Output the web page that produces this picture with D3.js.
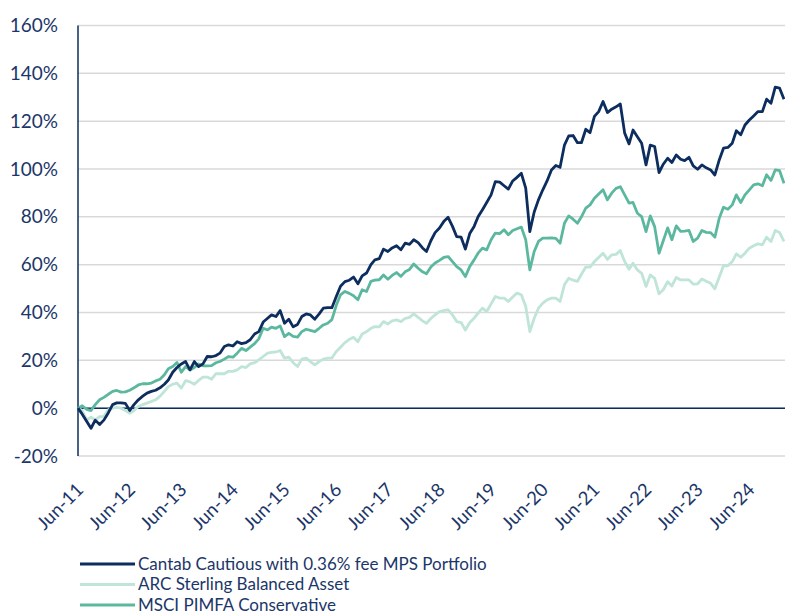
<!DOCTYPE html>
<html>
<head>
<meta charset="utf-8">
<script src="https://cdn.jsdelivr.net/npm/d3@7"></script>
<style>
  body { margin: 0; background: #fff; }
  text { font-family: Lato, "Open Sans", sans-serif; fill: #1b3668; }
</style>
</head>
<body>
<div id="chart"></div>
<script>
// Monthly cumulative returns (%), Jun-11 .. Feb-25
const START_MONTH = new Date(2011, 5, 1);

const cantab = [
    0, -2.5, -5.5, -8.4, -5, -6.8, -5, -2, 1.5, 2.2, 2.2, 2,
    -1, 1.5, 3.5, 5, 6.3, 7, 7.5, 8.5, 10, 11.8, 15, 17,
    18.5, 19.5, 16, 19.5, 17.4, 18.5, 21.6, 21.5, 22, 23, 25.8, 26.5,
    26, 27.8, 27, 27.4, 28.6, 31, 32, 36, 37.6, 39, 38.3, 40.8,
    35.5, 37.2, 34, 35, 38.3, 39.4, 39, 37.2, 39.4, 41.8, 42, 42,
    46.7, 51, 52.9, 53.5, 54.8, 52, 55.3, 56.5, 60, 62, 62.5, 66.5,
    65.5, 67, 67.9, 66.2, 69, 68.5, 70.4, 69.2, 67, 65.5, 70, 73.4,
    75.3, 78, 79.8, 76, 71.7, 71.5, 66.5, 73, 76, 80, 83, 86,
    89.2, 94.7, 94.5, 93, 91.6, 95, 96.5, 98.2, 92, 73.8, 82, 87.1,
    91.3, 95, 99.6, 101.5, 100.7, 110, 113.8, 114, 111, 111, 116.6, 115.2,
    122, 124, 128.2, 123.6, 125, 126, 127.2, 115, 110.5, 116.3, 113.5, 110.8,
    101.7, 110, 109.4, 98.5, 102, 104.5, 102.7, 105.9, 104.1, 103.5, 104.9, 101.3,
    99.9, 101.7, 100.5, 99.6, 97.5, 103.8, 108.7, 109, 110.8, 116, 114.3, 118.4,
    120.5, 122.2, 124, 124, 129.2, 127.5, 134.2, 133.8, 129.2
];

const arc = [
    0, -1, -5, -3.8, -4.9, -3.5, -3.4, -0.7, 0, 0.3, 0, -1,
    -2.1, -1, 0.7, 1.5, 2.1, 2.8, 3.5, 5, 7, 9, 10, 10.5,
    8.4, 11.5, 11, 10, 11.6, 13, 13, 12.1, 14.4, 14.4, 14.4, 15.4,
    15.4, 16, 17.4, 17, 18.5, 19, 20.2, 21.6, 23, 23.3, 23.5, 24.1,
    20.9, 21.3, 19, 17.4, 20.5, 20.9, 19.5, 18.1, 19.5, 20.5, 20.9, 21,
    23.7, 25.5, 27.4, 28.8, 29.6, 27.8, 31, 32, 33.4, 34.1, 34, 36.2,
    35.2, 36.5, 36.9, 36.2, 37.5, 38, 39.4, 38, 36.5, 35.5, 37.5, 39,
    40.4, 40.8, 41.1, 39, 36.2, 35.8, 32.7, 35.8, 37.6, 39.7, 41.8, 40.4,
    43.6, 46.7, 46, 46, 44.6, 46.5, 48.1, 47.4, 42.5, 32, 37.6, 41.8,
    43.9, 45.3, 46, 46, 44.6, 51.6, 54.3, 53.5, 53, 56, 59, 59,
    61.3, 63, 64.8, 62.2, 64.1, 64.3, 65.9, 61.3, 58.1, 60.6, 57.8, 56.4,
    50.9, 55.7, 54.3, 47.8, 49.5, 52.9, 51.1, 54.7, 53.6, 53.6, 53.6, 51.9,
    52, 54, 53.1, 52.2, 49.9, 54.8, 59.5, 59.5, 61.3, 64.5, 63.1, 64.8,
    66.9, 67.9, 68.7, 68.3, 71.5, 69.7, 74.3, 73.4, 69.7
];

const msci = [
    0, 1, -0.5, -1, 1.5, 3.5, 4.5, 5.8, 7, 7.4, 6.7, 6.8,
    7.5, 8.5, 9.7, 10.2, 10.2, 10.5, 11.4, 12.1, 14, 16.5, 17.4, 19.1,
    15, 17.4, 16, 17, 18.5, 17.7, 17.7, 17.8, 19, 19.5, 20.5, 21.6,
    21.3, 23, 25, 24.1, 25.5, 27, 29, 33.4, 32.7, 33.9, 33.4, 34.4,
    29.9, 31.3, 30, 29.7, 32, 33, 32.5, 32, 33.4, 34.8, 35.5, 37,
    43, 47.4, 48.8, 48, 47, 45.3, 49.5, 48.8, 53, 53.5, 53.7, 55.7,
    53.9, 55.5, 56.7, 55.1, 57, 58, 60.3, 58.5, 57, 56.2, 59, 60.7,
    61.8, 63, 63.4, 61.3, 59.2, 57.8, 55, 59.2, 62, 64.8, 66.9, 66.2,
    70.4, 73.2, 73, 74.6, 72.5, 74.3, 75, 75.7, 70.4, 57.8, 65.5, 69.7,
    71.1, 71.1, 71.2, 71, 69, 77.3, 80.4, 79, 77.3, 80, 83.6, 85,
    87.8, 89.5, 91.3, 87.1, 89.9, 91.9, 92.6, 89.2, 85.7, 86, 81.5, 80.1,
    73.8, 80.4, 75.9, 64.8, 70, 75.4, 70.4, 76.2, 73.9, 74, 74.3, 69.7,
    71.1, 74.3, 73.5, 73.4, 71.5, 79.4, 84, 83.2, 85, 89.2, 86, 89.2,
    91.3, 93.4, 93.8, 93, 97.6, 95.2, 99.6, 99.3, 94
];

const yTicks = [-20, 0, 20, 40, 60, 80, 100, 120, 140, 160];

const months = cantab.map((v, i) => d3.timeMonth.offset(START_MONTH, i));
const xTickDates = d3.range(0, months.length, 12).map(i => months[i]);

const seriesList = [
    { name: "Cantab Cautious with 0.36% fee MPS Portfolio", values: cantab, color: "#0c2d5e" },
    { name: "ARC Sterling Balanced Asset", values: arc, color: "#bfe4d8" },
    { name: "MSCI PIMFA Conservative", values: msci, color: "#5bb89f" }
];

const WIDTH = 785;
const HEIGHT = 615;
const PLOT_LEFT = 78;
const PLOT_RIGHT = 784;
const PLOT_TOP = 25.5;
const PLOT_BOTTOM = 456;

let svg = d3.select("#chart")
    .append("svg")
    .attr("width", WIDTH)
    .attr("height", HEIGHT);

let xScale = d3.scaleTime()
    .domain([months[0], months[months.length - 1]])
    .range([PLOT_LEFT, PLOT_RIGHT]);

let yScale = d3.scaleLinear()
    .domain([-20, 160])
    .range([PLOT_BOTTOM, PLOT_TOP]);

// gridlines
svg.append("g")
    .selectAll("line")
    .data(yTicks)
    .enter()
    .append("line")
    .attr("x1", PLOT_LEFT)
    .attr("x2", WIDTH)
    .attr("y1", d => yScale(d))
    .attr("y2", d => yScale(d))
    .attr("stroke", "#d9d9d9")
    .attr("stroke-width", 1.5);

// y axis labels
let yAxis = svg.append("g")
    .attr("transform", "translate(" + PLOT_LEFT + ",0)")
    .call(d3.axisLeft(yScale).tickValues(yTicks).tickSize(0).tickPadding(20).tickFormat(d => d + "%"));
yAxis.select(".domain").remove();
yAxis.selectAll("text")
    .style("font-size", "19px")
    .style("font-family", "Lato, sans-serif")
    .attr("fill", "#1b3668");

// x axis labels (rotated)
let xAxis = svg.append("g")
    .attr("transform", "translate(0," + PLOT_BOTTOM + ")")
    .call(d3.axisBottom(xScale).tickValues(xTickDates).tickSize(0).tickFormat(d3.timeFormat("%b-%y")));
xAxis.select(".domain").remove();
xAxis.selectAll("text")
    .style("font-size", "18.5px")
    .style("font-family", "Lato, sans-serif")
    .attr("fill", "#1b3668")
    .style("text-anchor", "end")
    .attr("dy", 0)
    .attr("y", 0)
    .attr("transform", "translate(6,35)rotate(-45)");

// zero line and left axis line
svg.append("line")
    .attr("x1", PLOT_LEFT)
    .attr("x2", WIDTH)
    .attr("y1", yScale(0))
    .attr("y2", yScale(0))
    .attr("stroke", "#0c2d5e")
    .attr("stroke-width", 1.5);

svg.append("line")
    .attr("x1", PLOT_LEFT)
    .attr("x2", PLOT_LEFT)
    .attr("y1", PLOT_TOP)
    .attr("y2", PLOT_BOTTOM)
    .attr("stroke", "#0c2d5e")
    .attr("stroke-width", 1.5);

let line = d3.line()
    .x((d, i) => xScale(months[i]))
    .y(d => yScale(d));

// draw light lines first, Cantab on top
let drawOrder = [seriesList[1], seriesList[2], seriesList[0]];
svg.append("g")
    .selectAll("path")
    .data(drawOrder)
    .enter()
    .append("path")
    .attr("d", d => line(d.values))
    .attr("fill", "none")
    .attr("stroke", d => d.color)
    .attr("stroke-width", 2.8)
    .attr("stroke-linejoin", "round");

// legend
let legend = svg.append("g")
    .selectAll("g")
    .data(seriesList)
    .enter()
    .append("g")
    .attr("transform", (d, i) => "translate(80," + (564 + i * 20.5) + ")");

legend.append("line")
    .attr("x1", 0)
    .attr("x2", 55)
    .attr("stroke", d => d.color)
    .attr("stroke-width", 3);

legend.append("text")
    .attr("x", 58)
    .attr("y", 0)
    .attr("dy", "0.34em")
    .style("font-size", "17px")
    .style("font-family", "Lato, sans-serif")
    .text(d => d.name);
</script>
</body>
</html>
